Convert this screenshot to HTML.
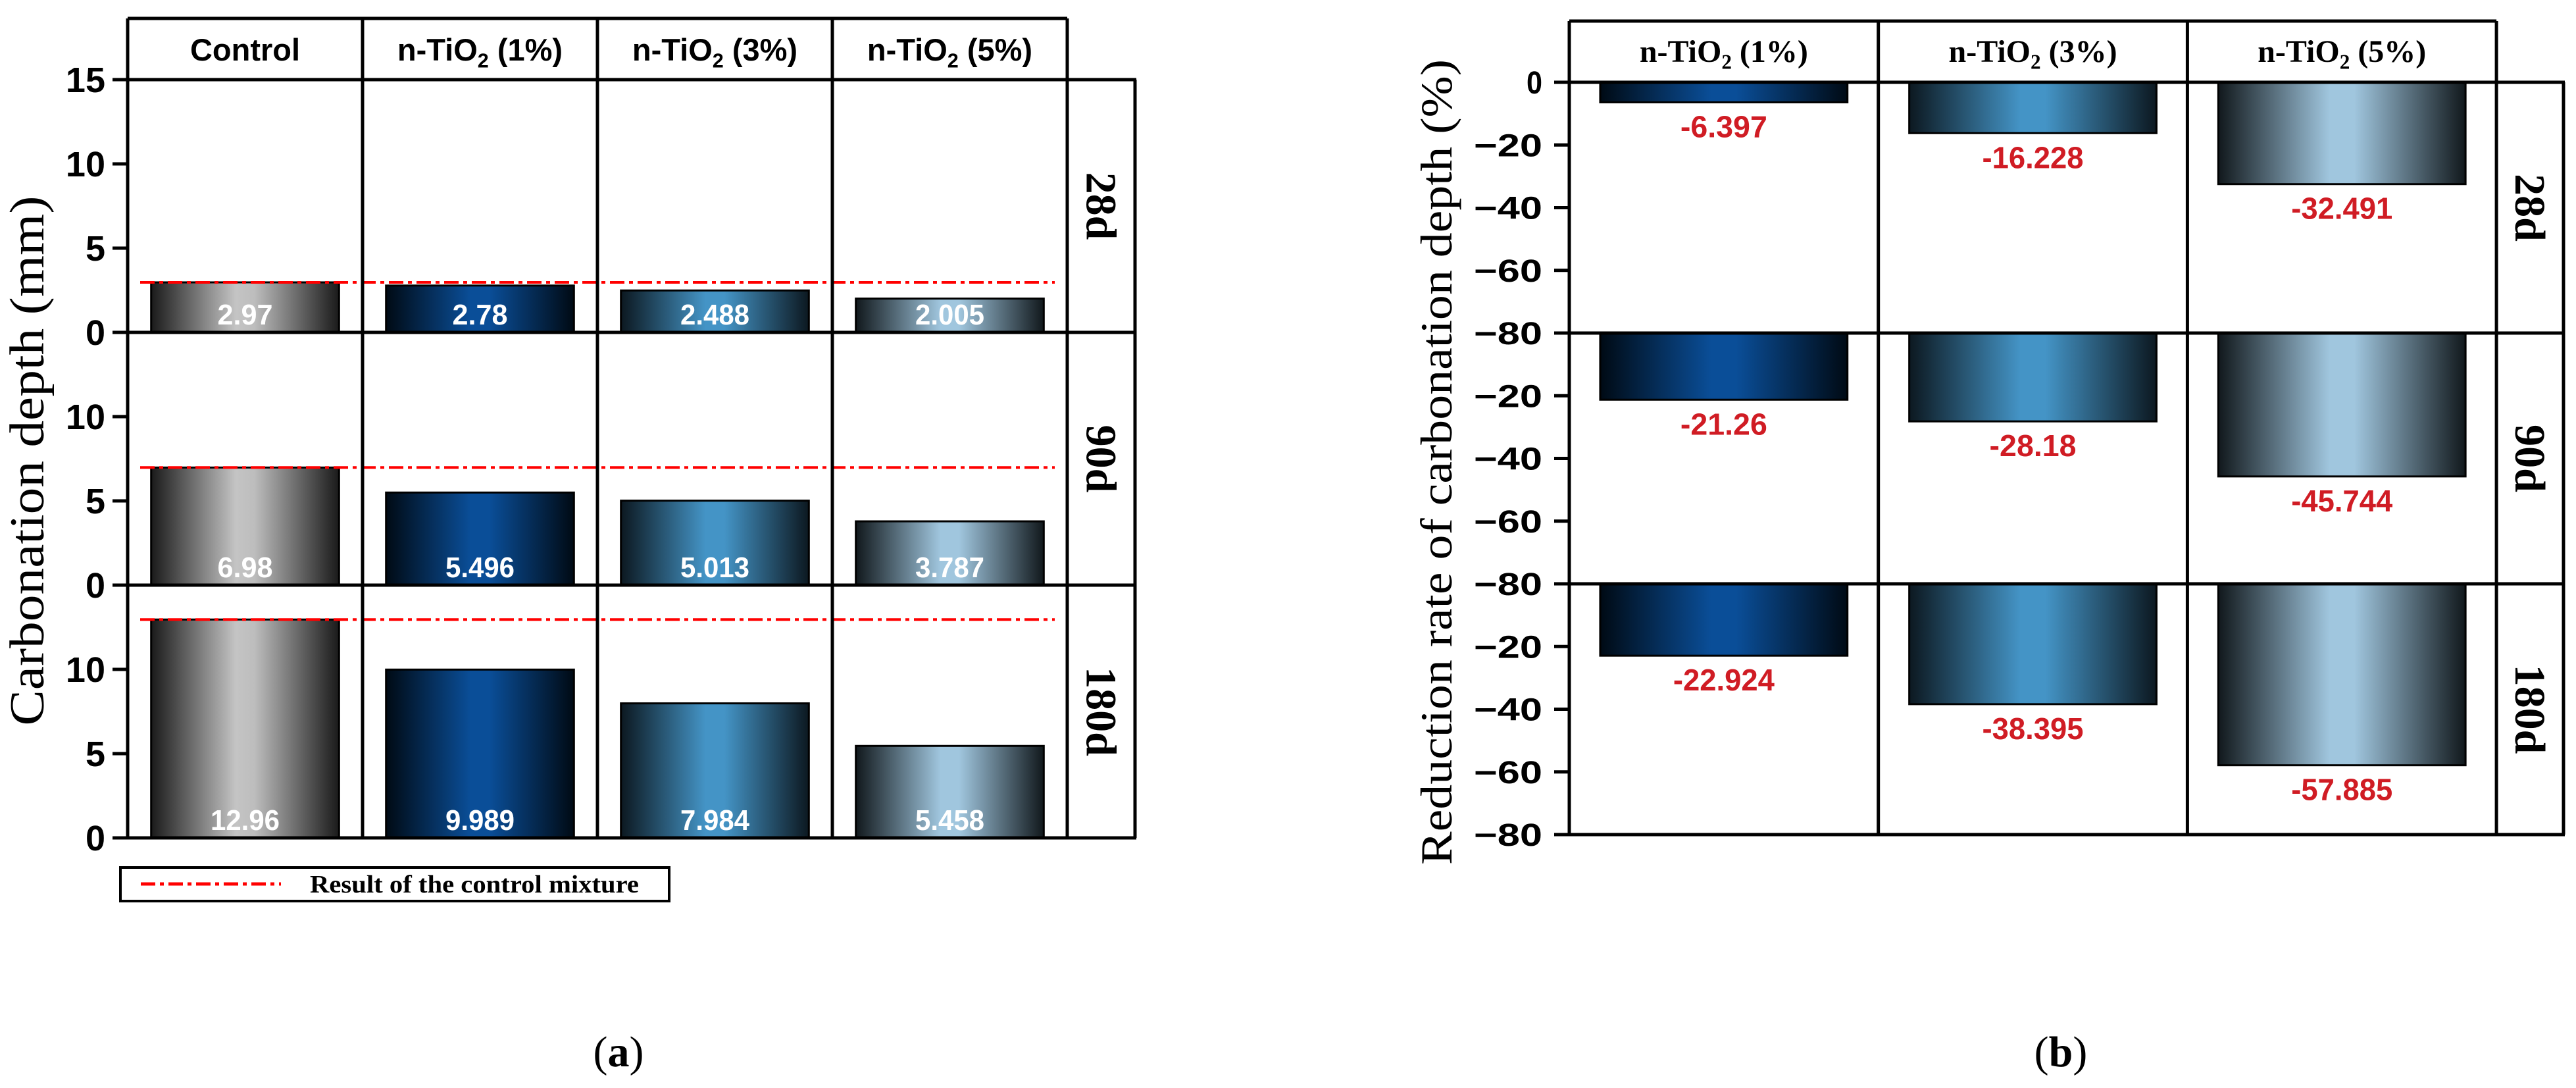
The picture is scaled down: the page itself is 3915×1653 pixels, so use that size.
<!DOCTYPE html>
<html><head><meta charset="utf-8"><style>
html,body{margin:0;padding:0;background:#fff;}
svg{display:block;}
</style></head><body>
<svg id="fig" xmlns="http://www.w3.org/2000/svg" width="3915" height="1653" viewBox="0 0 3915 1653">
<defs>
<linearGradient id="gCtrl" x1="0" x2="1" y1="0" y2="0"><stop offset="0" stop-color="#1a1a1a"/><stop offset="0.45" stop-color="#c4c4c4"/><stop offset="0.55" stop-color="#bdbdbd"/><stop offset="1" stop-color="#1a1a1a"/></linearGradient>
<linearGradient id="g1" x1="0" x2="1" y1="0" y2="0"><stop offset="0" stop-color="#000a14"/><stop offset="0.45" stop-color="#0a4e98"/><stop offset="0.55" stop-color="#0a4e98"/><stop offset="1" stop-color="#000a14"/></linearGradient>
<linearGradient id="g3" x1="0" x2="1" y1="0" y2="0"><stop offset="0" stop-color="#0c1820"/><stop offset="0.45" stop-color="#4494c6"/><stop offset="0.55" stop-color="#4494c6"/><stop offset="1" stop-color="#0c1820"/></linearGradient>
<linearGradient id="g5" x1="0" x2="1" y1="0" y2="0"><stop offset="0" stop-color="#11181c"/><stop offset="0.45" stop-color="#a0c6de"/><stop offset="0.55" stop-color="#a0c6de"/><stop offset="1" stop-color="#11181c"/></linearGradient>
</defs>
<g id="left"></g>
<g id="right"></g>
<text x="940" y="1620" font-family="Liberation Serif, serif" font-size="66" text-anchor="middle">(<tspan font-weight="bold">a</tspan>)</text>
<text x="3132" y="1620" font-family="Liberation Serif, serif" font-size="66" text-anchor="middle">(<tspan font-weight="bold">b</tspan>)</text>
</svg>
<script>
// ---- data ----
const leftCategories = ["Control", "n-TiO2 (1%)", "n-TiO2 (3%)", "n-TiO2 (5%)"];
const ages = ["28d", "90d", "180d"];
const depth28 = [2.97, 2.78, 2.488, 2.005];
const depth90 = [6.98, 5.496, 5.013, 3.787];
const depth180 = [12.96, 9.989, 7.984, 5.458];
const leftTicks = [0, 5, 10, 15];
const rightCategories = ["n-TiO2 (1%)", "n-TiO2 (3%)", "n-TiO2 (5%)"];
const reduction28 = [-6.397, -16.228, -32.491];
const reduction90 = [-21.26, -28.18, -45.744];
const reduction180 = [-22.924, -38.395, -57.885];
const rightTicks = [0, -20, -40, -60, -80];

const NS = "http://www.w3.org/2000/svg";
function mk(parent, tag, attrs, text) {
  const e = document.createElementNS(NS, tag);
  for (const k in attrs) e.setAttribute(k, attrs[k]);
  if (text !== undefined) e.textContent = text;
  parent.appendChild(e);
  return e;
}
function catLabel(parent, x, y, label, fam, size, color) {
  const t = mk(parent, "text", {x: x, y: y, "text-anchor": "middle", "font-family": fam, "font-size": size, "font-weight": "bold", fill: color});
  const m = label.match(/^(.*TiO)2(.*)$/);
  if (m) {
    mk(t, "tspan", {}, m[1]);
    mk(t, "tspan", {"font-size": size * 0.65, dy: size * 0.22}, "2");
    mk(t, "tspan", {dy: -size * 0.22}, m[2]);
  } else { t.textContent = label; }
  return t;
}
const SANS = "Liberation Sans, Arial, sans-serif";
const SERIF = "Liberation Serif, serif";

// ---- left chart ----
(function () {
  const g = document.getElementById("left");
  const L = 194, colW = 357, ncol = 4, R = L + colW * ncol, stripR = 1725;
  const top = 28, hb = 121, ph = 384;
  const vmax = 15;
  const series = [depth28, depth90, depth180];
  const fills = ["url(#gCtrl)", "url(#g1)", "url(#g3)", "url(#g5)"];
  const yOf = (p, v) => hb + ph * (p + 1) - v / vmax * ph;
  const xOf = (c) => L + colW * c;
  const bottom = hb + ph * 3;
  series.forEach((vals, p) => {
    vals.forEach((v, c) => {
      const bx = xOf(c) + colW * 0.1, bw = colW * 0.8;
      const b = mk(g, "rect", {x: bx, y: yOf(p, v), width: bw, height: yOf(p, 0) - yOf(p, v), fill: fills[c], stroke: "#000", "stroke-width": 3});
      
      
      const s = String(v);
      const t = mk(g, "text", {x: bx + bw / 2, y: yOf(p, 0) - 12, "text-anchor": "middle", "font-family": SANS, "font-size": 44, "font-weight": "bold", fill: "#fff", textLength: s.length * 21, lengthAdjust: "spacingAndGlyphs"}, s);
      
      
    });
    const ly = yOf(p, vals[0]);
    const rl = mk(g, "line", {x1: 213, x2: 1603, y1: ly, y2: ly, stroke: "#ff0000", "stroke-width": 4, "stroke-dasharray": "22,7,6,7"});
    
    
  });
  mk(g, "path", {d: `M${L},${top} H${R} M${L},${top} V${bottom}`, stroke: "#000", "stroke-width": 5, fill: "none"});
  for (let c = 1; c <= ncol; c++) mk(g, "line", {x1: xOf(c), x2: xOf(c), y1: top, y2: bottom, stroke: "#000", "stroke-width": 5});
  mk(g, "line", {x1: stripR, x2: stripR, y1: hb, y2: bottom, stroke: "#000", "stroke-width": 5});
  for (let p = 0; p <= 3; p++) mk(g, "line", {x1: 171, x2: stripR + 2, y1: hb + ph * p, y2: hb + ph * p, stroke: "#000", "stroke-width": 5});
  for (let p = 0; p < 3; p++) {
    leftTicks.forEach(v => {
      if (v === vmax && p > 0) return;
      const y = yOf(p, v);
      mk(g, "line", {x1: 171, x2: L, y1: y, y2: y, stroke: "#000", "stroke-width": 5});
      const t = mk(g, "text", {x: 160, y: y + 19, "text-anchor": "end", "font-family": SANS, "font-size": 54, "font-weight": "bold"}, String(v));
      
      
    });
    const st = mk(g, "text", {x: 0, y: 0, transform: `translate(${(R + stripR) / 2 - 22},${hb + ph * p + ph / 2}) rotate(90)`, "text-anchor": "middle", "font-family": SERIF, "font-size": 66, "font-weight": "bold"}, ages[p]);
    
    
  }
  leftCategories.forEach((c, i) => {
    const t = catLabel(g, xOf(i) + colW / 2, 92, c, SANS, 47, "#000");
    
    
  });
  const yt = mk(g, "text", {x: 0, y: 0, transform: "translate(66,700) rotate(-90)", "text-anchor": "middle", "font-family": SERIF, "font-size": 74, textLength: 805, lengthAdjust: "spacingAndGlyphs"}, "Carbonation depth (mm)");
  
  
  const lg = mk(g, "g", {});
  
  
  mk(lg, "rect", {x: 183, y: 1318, width: 834, height: 51, fill: "#fff", stroke: "#000", "stroke-width": 4});
  mk(lg, "line", {x1: 214, x2: 427, y1: 1343, y2: 1343, stroke: "#ff0000", "stroke-width": 5, "stroke-dasharray": "22,7,6,7"});
  mk(lg, "text", {x: 471, y: 1356, "font-family": SERIF, "font-size": 38, "font-weight": "bold", textLength: 500, lengthAdjust: "spacingAndGlyphs"}, "Result of the control mixture");
})();

// ---- right chart ----
(function () {
  const g = document.getElementById("right");
  const L = 2385, colW = 469.7, ncol = 3, R = L + colW * ncol, stripR = 3896;
  const top = 32, hb = 125, ph = 381;
  const vmin = -80;
  const series = [reduction28, reduction90, reduction180];
  const fills = ["url(#g1)", "url(#g3)", "url(#g5)"];
  const yOf = (p, v) => hb + ph * p + v / vmin * ph;
  const xOf = (c) => L + colW * c;
  const bottom = hb + ph * 3;
  series.forEach((vals, p) => {
    vals.forEach((v, c) => {
      const bx = xOf(c) + colW * 0.1, bw = colW * 0.8;
      const b = mk(g, "rect", {x: bx, y: yOf(p, 0), width: bw, height: yOf(p, v) - yOf(p, 0), fill: fills[c], stroke: "#000", "stroke-width": 3});
      
      
      const s = String(v);
      const t = mk(g, "text", {x: bx + bw / 2, y: yOf(p, v) + 53, "text-anchor": "middle", "font-family": SANS, "font-size": 46, "font-weight": "bold", fill: "#d01c24", textLength: s.length * 22, lengthAdjust: "spacingAndGlyphs"}, s);
      
      
    });
  });
  mk(g, "path", {d: `M${L},${top} H${R} M${L},${top} V${bottom}`, stroke: "#000", "stroke-width": 5, fill: "none"});
  for (let c = 1; c <= ncol; c++) mk(g, "line", {x1: xOf(c), x2: xOf(c), y1: top, y2: bottom, stroke: "#000", "stroke-width": 5});
  mk(g, "line", {x1: stripR, x2: stripR, y1: hb, y2: bottom, stroke: "#000", "stroke-width": 5});
  for (let p = 0; p <= 3; p++) mk(g, "line", {x1: (p === 0 ? L : 2362), x2: stripR + 2, y1: hb + ph * p, y2: hb + ph * p, stroke: "#000", "stroke-width": 5});
  for (let p = 0; p < 3; p++) {
    rightTicks.forEach(v => {
      if (v === 0 && p > 0) return;
      const y = yOf(p, v);
      mk(g, "line", {x1: 2362, x2: L, y1: y, y2: y, stroke: "#000", "stroke-width": 5});
      const s = v === 0 ? "0" : "\u2212" + String(-v);
      const t = mk(g, "text", {x: 2344, y: y + 17, "text-anchor": "end", "font-family": SANS, "font-size": 48, "font-weight": "bold", textLength: v === 0 ? 24 : 104, lengthAdjust: "spacingAndGlyphs"}, s);
      
      
    });
    const st = mk(g, "text", {x: 0, y: 0, transform: `translate(${(R + stripR) / 2 - 22},${hb + ph * p + ph / 2}) rotate(90)`, "text-anchor": "middle", "font-family": SERIF, "font-size": 66, "font-weight": "bold"}, ages[p]);
    
    
  }
  rightCategories.forEach((c, i) => {
    const t = catLabel(g, xOf(i) + colW / 2, 94, c, SERIF, 48, "#000");
    
    
  });
  const yt = mk(g, "text", {x: 0, y: 0, transform: "translate(2206,702) rotate(-90)", "text-anchor": "middle", "font-family": SERIF, "font-size": 68, textLength: 1224, lengthAdjust: "spacingAndGlyphs"}, "Reduction rate of carbonation depth (%)");
  
  
})();
</script>
</body></html>
